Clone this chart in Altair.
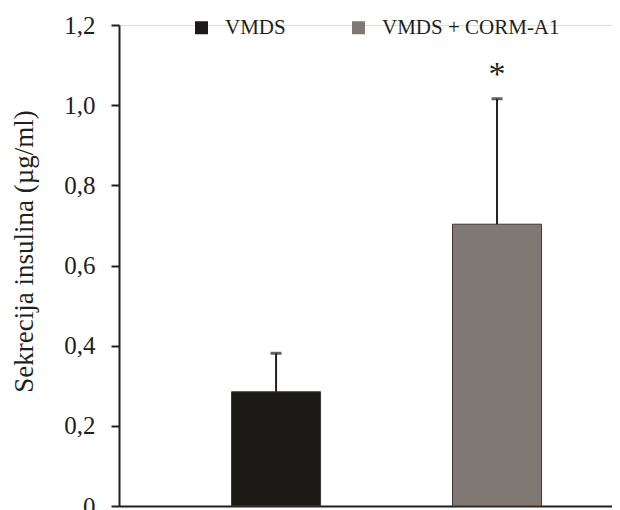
import altair as alt
import pandas as pd

categories = ["VMDS", "VMDS + CORM-A1"]
means = [0.285, 0.703]
sds = [0.096, 0.313]
marks = ["", "*"]
bar_colors = ["#1c1a17", "#7f7873"]
y_ticks = [0, 0.2, 0.4, 0.6, 0.8, 1.0, 1.2]

df = pd.DataFrame({
    "group": categories,
    "mean": means,
    "sd": sds,
    "sig": marks,
})
df["upper"] = df["mean"] + df["sd"]

FONT = "Liberation Serif"
INK = "#231f20"

x_enc = alt.X(
    "group:N",
    sort=categories,
    scale=alt.Scale(paddingInner=0.597, paddingOuter=0.414, align=0.615),
    axis=alt.Axis(title=None, labels=False, ticks=False, domain=True,
                  domainColor=INK, domainWidth=2),
)
y_scale = alt.Scale(domain=[0, 1.2], nice=False, zero=True)

base = alt.Chart(df)

bars = base.mark_bar(stroke="#3d3936", strokeWidth=1).encode(
    x=x_enc,
    y=alt.Y(
        "mean:Q",
        scale=y_scale,
        axis=alt.Axis(
            title="Sekrecija insulina (µg/ml)",
            values=y_ticks,
            labelExpr="datum.value == 0 ? '0' : replace(format(datum.value, '.1f'), '.', ',')",
            grid=False,
            domainColor=INK, domainWidth=2,
            tickColor=INK, tickWidth=2, tickSize=8,
            labelFont=FONT, labelFontSize=25, labelColor=INK, labelPadding=16,
            titleFont=FONT, titleFontSize=27, titleFontWeight="normal",
            titleColor=INK, titlePadding=25, titleY=226,
        ),
    ),
    color=alt.Color(
        "group:N",
        scale=alt.Scale(domain=categories, range=bar_colors),
        legend=alt.Legend(
            title=None, orient="none", direction="horizontal",
            legendX=72, legendY=-8,
            symbolType="square", symbolSize=169, symbolStrokeWidth=0,
            labelFont=FONT, labelFontSize=21, labelColor=INK,
            labelOffset=13, columnPadding=62, labelLimit=400,
        ),
    ),
)

err = base.mark_rule(color=INK, strokeWidth=2).encode(
    x=alt.X("group:N", sort=categories),
    y=alt.Y("mean:Q"),
    y2="upper:Q",
)

caps = base.mark_tick(color=INK, thickness=3, size=11, orient="horizontal").encode(
    x=alt.X("group:N", sort=categories),
    y=alt.Y("upper:Q"),
)

stars = base.mark_text(font=FONT, fontSize=34, color=INK, baseline="alphabetic", dy=-14).encode(
    x=alt.X("group:N", sort=categories),
    y=alt.Y("upper:Q"),
    text="sig:N",
)

chart = alt.layer(bars, err, caps, stars).properties(
    width=493,
    height=481,
    autosize=alt.AutoSizeParams(type="none"),
    padding={"left": 111, "top": 17, "right": 0, "bottom": 4},
).configure_view(stroke=None).configure(background="white")

chart.save("out.html", embed_options={"renderer": "svg", "actions": False})
